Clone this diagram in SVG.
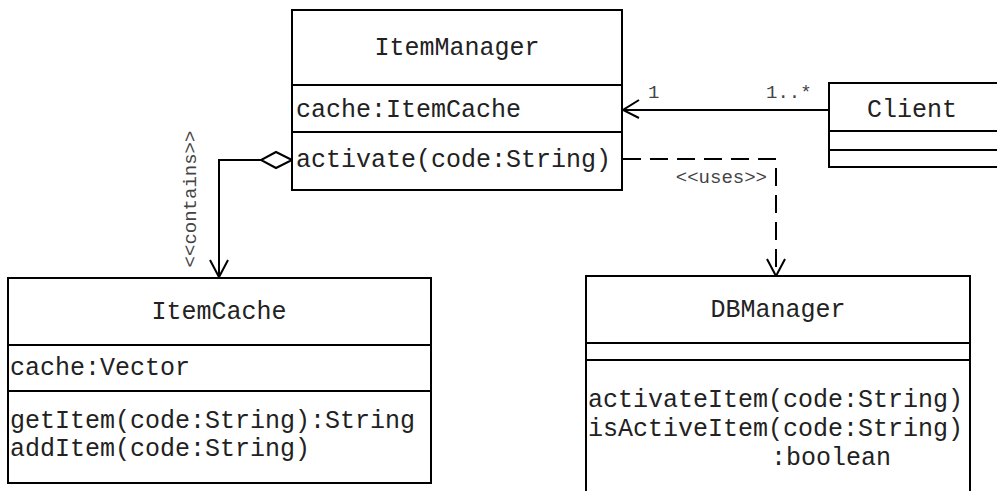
<svg xmlns="http://www.w3.org/2000/svg" width="997" height="491" viewBox="0 0 997 491">
<style>
.box{fill:#fff;stroke:#000;stroke-width:2}
.ln{fill:none;stroke:#000;stroke-width:2}
.t{font-family:"Courier New","Nimbus Mono PS","FreeMono","Liberation Mono",monospace;font-size:25px;fill:#222}
.c{text-anchor:middle}
.lb{font-family:"Courier New","Nimbus Mono PS","FreeMono","Liberation Mono",monospace;font-size:19px;fill:#444}
</style>
<rect width="997" height="491" fill="#fff"/>
<g id="connectors">
  <path class="ln" d="M829,110 H623"/>
  <path class="ln" d="M639,100 L623,110 L639,118"/>
  <path class="ln" d="M623,159 H776 V276" stroke-dasharray="18,9"/>
  <path class="ln" d="M767,259 L776,276 L785,259"/>
  <path class="ln" d="M261,160 H219 V277"/>
  <path class="ln" d="M210,260 L219,277 L228,260"/>
  <path d="M292,160 L276,152 L261,160 L276,168 Z" fill="#fff" stroke="#000" stroke-width="2"/>
  <text class="lb" x="648" y="98">1</text>
  <text class="lb" x="766" y="98">1..*</text>
  <text class="lb" x="767" y="183" text-anchor="end">&lt;&lt;uses&gt;&gt;</text>
  <text class="lb" transform="translate(196,199) rotate(-90)" text-anchor="middle">&lt;&lt;contains&gt;&gt;</text>
</g>
<g id="ItemManager">
  <rect class="box" x="292" y="10" width="330" height="180"/>
  <path class="ln" d="M292,85 H622 M292,132 H622"/>
  <text class="t c" x="457" y="55">ItemManager</text>
  <text class="t" x="296" y="117">cache:ItemCache</text>
  <text class="t" x="296" y="167">activate(code:String)</text>
</g>
<g id="Client">
  <rect class="box" x="829" y="83" width="190" height="84"/>
  <path class="ln" d="M829,131 H1010 M829,150 H1010"/>
  <text class="t" x="867" y="117">Client</text>
</g>
<g id="ItemCache">
  <rect class="box" x="8" y="278" width="423" height="205"/>
  <path class="ln" d="M8,345 H431 M8,391 H431"/>
  <text class="t c" x="219" y="319">ItemCache</text>
  <text class="t" x="10" y="375">cache:Vector</text>
  <text class="t" x="10" y="428">getItem(code:String):String</text>
  <text class="t" x="10" y="456">addItem(code:String)</text>
</g>
<g id="DBManager">
  <rect class="box" x="586" y="276" width="384" height="240"/>
  <path class="ln" d="M586,343 H970 M586,360 H970"/>
  <text class="t c" x="778" y="317">DBManager</text>
  <text class="t" x="588" y="407">activateItem(code:String)</text>
  <text class="t" x="588" y="436">isActiveItem(code:String)</text>
  <text class="t" x="771" y="465">:boolean</text>
</g>
</svg>
